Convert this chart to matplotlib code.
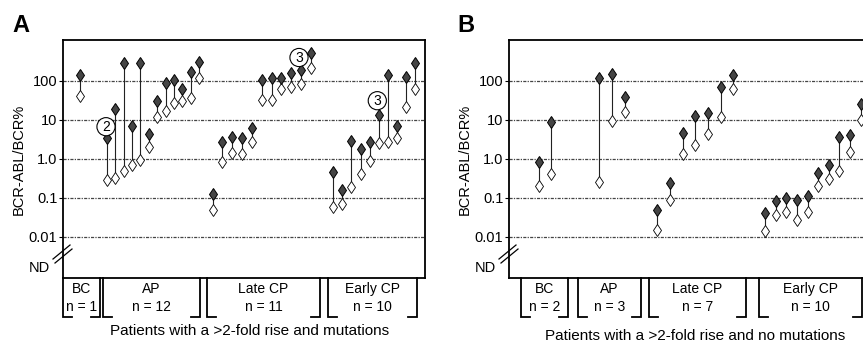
import numpy as np
import matplotlib
matplotlib.use("Agg")
import matplotlib.pyplot as plt
import matplotlib.transforms as mtransforms

plt.rcParams['font.family'] = ['Liberation Sans', 'DejaVu Sans']

# ---------------- data (BCR-ABL/BCR %) ----------------
groups = ["BC", "AP", "Late CP", "Early CP"]

# Panel A: rise and mutations
A_BC_before = [40]
A_BC_after = [140]
A_AP_before = [0.28, 0.32, 0.48, 0.70, 0.91, 2.0, 12, 16.6, 27, 31, 35, 120]
A_AP_after = [3.3, 18.6, 280, 6.8, 280, 4.4, 30, 85, 104, 62, 164, 310]
A_LCP_before = [0.047, 0.81, 1.4, 1.35, 2.7, 32, 32, 60, 68, 84, 215]
A_LCP_after = [0.125, 2.6, 3.6, 3.4, 6.1, 104, 120, 120, 155, 192, 500]
A_ECP_before = [0.056, 0.07, 0.19, 0.41, 0.87, 2.5, 2.7, 3.3, 21, 63]
A_ECP_after = [0.45, 0.16, 2.8, 1.8, 2.7, 13, 140, 6.8, 127, 280]

# Panel B: rise and no mutations
B_BC_before = [0.2, 0.41]
B_BC_after = [0.82, 8.7]
B_AP_before = [0.25, 9.4, 16]
B_AP_after = [115, 146, 39]
B_LCP_before = [0.015, 0.085, 1.3, 2.2, 4.4, 11.5, 60]
B_LCP_after = [0.049, 0.23, 4.6, 12.3, 15, 70, 140]
B_ECP_before = [0.014, 0.035, 0.042, 0.027, 0.042, 0.2, 0.3, 0.48, 1.5, 9.8]
B_ECP_after = [0.04, 0.081, 0.1, 0.088, 0.11, 0.43, 0.7, 3.5, 4.0, 25]

ytick_vals = [100, 10, 1, 0.1, 0.01]
ytick_labels = ["100", "10", "1.0", "0.1", "0.01"]

A_captions = "Patients with a >2-fold rise and mutations"
B_captions = "Patients with a >2-fold rise and no mutations"

# ---------------- layout ----------------
W, H = 863, 345
fig = plt.figure(figsize=(W / 100, H / 100), dpi=100)

AX_W = 362
AX_TOP, AX_BOT = 40, 278
LOG_TOP, LOG_BOT = 3.045, -3.065


def px2log(ypx):
    return 2 - (ypx - 80.7) / 38.95


def make_axes(left_px):
    ax = fig.add_axes([left_px / W, (H - AX_BOT) / H, AX_W / W, (AX_BOT - AX_TOP) / H])
    ax.set_yscale('log')
    ax.set_ylim(10 ** LOG_BOT, 10 ** LOG_TOP)
    ax.set_xlim(0, AX_W)
    ax.set_xticks([])
    ax.minorticks_off()
    ax.set_yticks(ytick_vals)
    ax.set_yticklabels(ytick_labels, fontsize=10.5)
    ax.tick_params(axis='y', direction='out', length=3, width=0.8, pad=1)
    for s in ax.spines.values():
        s.set_linewidth(1.3)
    for v in ytick_vals:
        ax.axhline(v, color='#444444', lw=0.9, ls=(0, (2.5, 1, 1, 1)), zorder=1)
    ax.set_ylabel("BCR-ABL/BCR%", fontsize=10.5, labelpad=2)
    # ND label and axis break
    ax.text(-13, 10 ** px2log(268), "ND", ha='right', va='center', fontsize=10.5, clip_on=False)
    for dx, dy in [(0, 0), (2, 4)]:
        ax.plot([-10 + dx, 7 + dx], [10 ** px2log(259 + dy), 10 ** px2log(245 + dy)],
                color='black', lw=0.9, clip_on=False, zorder=5)
    return ax


def draw_patients(ax, x, before, after):
    for xi, b, a in zip(x, before, after):
        ax.plot([xi, xi], [b, a], color='#222222', lw=0.8, zorder=2)
    ax.plot(x, before, ls='none', marker='d', ms=6.5, mfc='white', mec='black', mew=0.6, zorder=3)
    ax.plot(x, after, ls='none', marker='d', ms=6.5, mfc='#444444', mec='black', mew=0.7, zorder=4)


def draw_bracket(ax, x0, x1, name, n):
    tr = mtransforms.blended_transform_factory(ax.transData, ax.transAxes)
    yb = -(317 - AX_BOT) / (AX_BOT - AX_TOP)
    foot = 9
    ax.plot([x0 + foot, x0, x0], [yb, yb, 0], transform=tr, color='black', lw=1.3,
            clip_on=False, solid_joinstyle='miter')
    ax.plot([x1 - foot, x1, x1], [yb, yb, 0], transform=tr, color='black', lw=1.3,
            clip_on=False, solid_joinstyle='miter')
    xc = (x0 + x1) / 2
    ax.text(xc, -(289 - AX_BOT) / (AX_BOT - AX_TOP), name, transform=tr, ha='center',
            va='center', fontsize=10)
    ax.text(xc, -(307 - AX_BOT) / (AX_BOT - AX_TOP), f"n = {n}", transform=tr, ha='center',
            va='center', fontsize=10)


def circled(ax, x, ypx, label):
    ax.text(x, 10 ** px2log(ypx), label, ha='center', va='center', fontsize=10, zorder=6,
            bbox=dict(boxstyle='circle,pad=0.15', fc='white', ec='black', lw=0.8))


# ---------------- panel A ----------------
axA = make_axes(63)
A_data = [(A_BC_before, A_BC_after), (A_AP_before, A_AP_after),
          (A_LCP_before, A_LCP_after), (A_ECP_before, A_ECP_after)]
A_patient_span = [(17, 17), (43.7, 136.3), (149.5, 248), (270.3, 352)]
A_bracket_span = [(0, 37), (40, 136.5), (144, 257), (265, 354)]
for (bef, aft), (p0, p1), (b0, b1), g in zip(A_data, A_patient_span, A_bracket_span, groups):
    x = np.linspace(p0, p1, len(bef))
    draw_patients(axA, x, bef, aft)
    draw_bracket(axA, b0, b1, g, len(bef))
circled(axA, 43, 126.7, "2")
circled(axA, 236, 57.5, "3")
circled(axA, 314.3, 100.7, "3")

# ---------------- panel B ----------------
axB = make_axes(509)
B_data = [(B_BC_before, B_BC_after), (B_AP_before, B_AP_after),
          (B_LCP_before, B_LCP_after), (B_ECP_before, B_ECP_after)]
B_patient_span = [(30.3, 41.7), (90.3, 116), (148.3, 224.3), (256, 351.7)]
B_bracket_span = [(11.7, 59.3), (69.3, 132), (140, 237), (250.3, 352.7)]
for (bef, aft), (p0, p1), (b0, b1), g in zip(B_data, B_patient_span, B_bracket_span, groups):
    x = np.linspace(p0, p1, len(bef))
    draw_patients(axB, x, bef, aft)
    draw_bracket(axB, b0, b1, g, len(bef))

# ---------------- labels ----------------
fig.text(21 / W, 1 - 25 / H, "A", fontsize=17, fontweight='bold', ha='center', va='center')
fig.text(466 / W, 1 - 25 / H, "B", fontsize=17, fontweight='bold', ha='center', va='center')
fig.text(250 / W, 1 - 331 / H, A_captions, fontsize=11, ha='center', va='center')
fig.text(695 / W, 1 - 336 / H, B_captions, fontsize=11, ha='center', va='center')

fig.savefig("out.png", dpi=100)
